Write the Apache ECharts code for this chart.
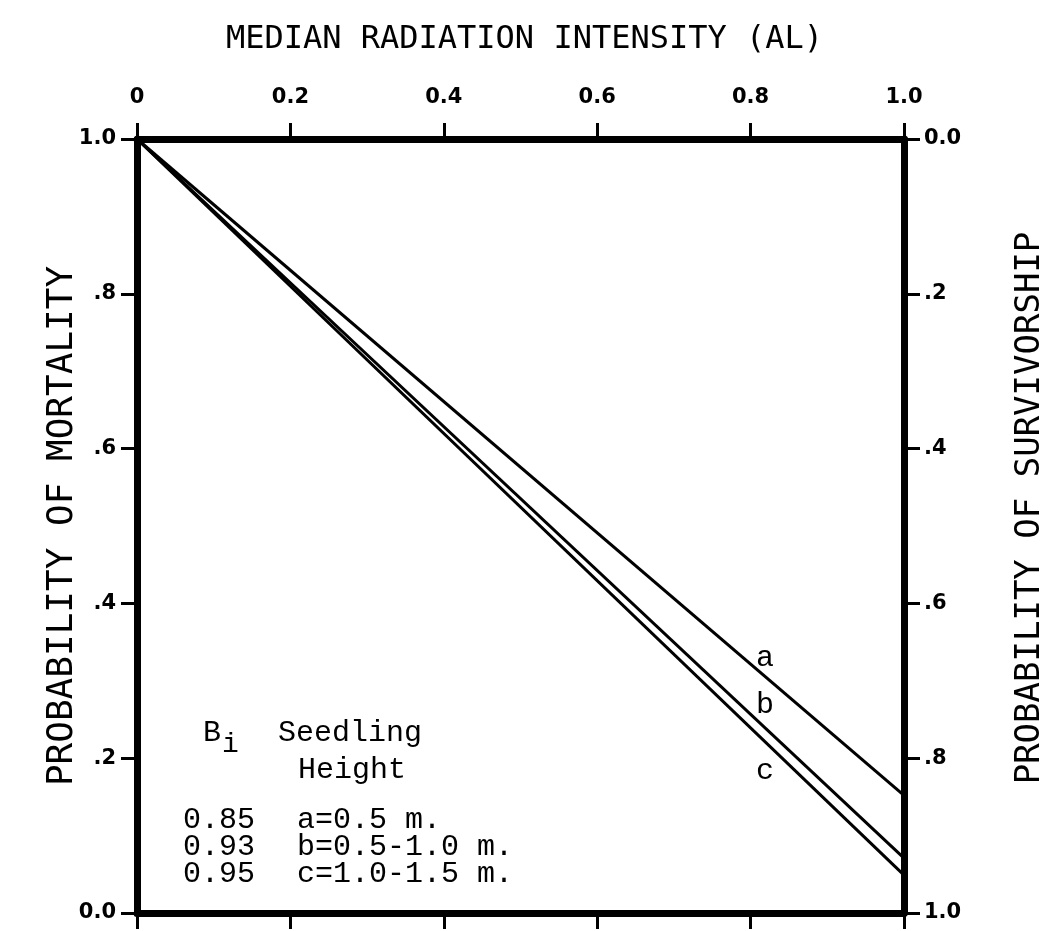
<!DOCTYPE html>
<html>
<head>
<meta charset="utf-8">
<script src="https://cdn.jsdelivr.net/npm/echarts@6/dist/echarts.min.js"></script>
<style>
html, body { margin: 0; background: #fff; }
#chart { width: 1049px; height: 931px; }
</style>
</head>
<body>
<div id="chart"></div>
<script>
// radiation intensity (AL) at the two ends of each fitted line
var intensity = [0, 1.0];
// probability of mortality for each seedling height class
var mortalityA = [1.0, 0.152];
var mortalityB = [1.0, 0.071];
var mortalityC = [1.0, 0.049];

var topTickLabels = ['0', '0.2', '0.4', '0.6', '0.8', '1.0'];
var leftTickLabels = ['0.0', '.2', '.4', '.6', '.8', '1.0'];
var rightTickLabels = ['0.0', '.2', '.4', '.6', '.8', '1.0'];

var curveNames = ['a', 'b', 'c'];
var bValues = ['0.85', '0.93', '0.95'];
var heightClasses = ['a=0.5 m.', 'b=0.5-1.0 m.', 'c=1.0-1.5 m.'];

var typeFont = '"Liberation Mono", "DejaVu Sans Mono", monospace';
var labelFont = '"DejaVu Sans", sans-serif';

function pair(xs, ys) {
    var out = [];
    for (var i = 0; i < xs.length; i++) {
        out.push([xs[i], ys[i]]);
    }
    return out;
}

function tickIndex(v) {
    return Math.round(v / 0.2);
}

window.onload = function() {
    var chart = echarts.init(document.getElementById('chart'));

    var axisLine = { show: true, onZero: false, lineStyle: { color: '#000', width: 7 } };
    var axisTick = { show: true, inside: false, length: 16, lineStyle: { color: '#000', width: 3 } };

    var lineSeries = [mortalityA, mortalityB, mortalityC].map(function(vals, i) {
        return {
            name: curveNames[i],
            type: 'line',
            xAxisIndex: 0,
            yAxisIndex: 0,
            data: pair(intensity, vals),
            symbol: 'none',
            lineStyle: { color: '#000', width: 3 },
            silent: true
        };
    });

    var graphics = [
        { type: 'text', left: 'center', top: 24,
          style: { text: 'MEDIAN RADIATION INTENSITY (AL)', font: '32px "DejaVu Sans Mono", monospace', fill: '#000' } },
        { type: 'text', x: 63, y: 526, rotation: Math.PI / 2,
          style: { text: 'PROBABILITY OF MORTALITY', font: '36px "DejaVu Sans Mono", monospace', fill: '#000', align: 'center', verticalAlign: 'middle' } },
        { type: 'text', x: 1030, y: 508, rotation: Math.PI / 2,
          style: { text: 'PROBABILITY OF SURVIVORSHIP', font: '34px "DejaVu Sans Mono", monospace', fill: '#000', align: 'center', verticalAlign: 'middle' } }
    ];

    // curve letters
    var letterY = [658, 705, 771];
    for (var i = 0; i < curveNames.length; i++) {
        graphics.push({ type: 'text', x: 765, y: letterY[i],
            style: { text: curveNames[i], font: '30px ' + typeFont, fill: '#000', align: 'center', verticalAlign: 'middle' } });
    }

    // key block
    graphics.push({ type: 'text', x: 203, y: 733, style: { text: 'B', font: '30px ' + typeFont, fill: '#000', verticalAlign: 'middle' } });
    graphics.push({ type: 'text', x: 222, y: 745, style: { text: 'i', font: '28px ' + typeFont, fill: '#000', verticalAlign: 'middle' } });
    graphics.push({ type: 'text', x: 278, y: 733, style: { text: 'Seedling', font: '30px ' + typeFont, fill: '#000', verticalAlign: 'middle' } });
    graphics.push({ type: 'text', x: 298, y: 770, style: { text: 'Height', font: '30px ' + typeFont, fill: '#000', verticalAlign: 'middle' } });
    for (var j = 0; j < bValues.length; j++) {
        graphics.push({ type: 'text', x: 183, y: 820 + j * 27,
            style: { text: bValues[j], font: '30px ' + typeFont, fill: '#000', verticalAlign: 'middle' } });
        graphics.push({ type: 'text', x: 297, y: 820 + j * 27,
            style: { text: heightClasses[j], font: '30px ' + typeFont, fill: '#000', verticalAlign: 'middle' } });
    }

    var tickLabelStyle = { color: '#000', fontFamily: labelFont, fontWeight: 'bold', fontSize: 21 };

    var option = {
        backgroundColor: '#fff',
        animation: false,
        grid: { left: 137, top: 139, width: 767, height: 774, containLabel: false },
        xAxis: [
            {
                type: 'value', position: 'top', min: 0, max: 1, interval: 0.2,
                axisLine: axisLine, axisTick: axisTick, splitLine: { show: false },
                axisLabel: Object.assign({ margin: 31,
                    formatter: function(v) { return topTickLabels[tickIndex(v)]; } }, tickLabelStyle)
            },
            {
                type: 'value', position: 'bottom', min: 0, max: 1, interval: 0.2,
                axisLine: axisLine, axisTick: axisTick, splitLine: { show: false },
                axisLabel: { show: false }
            }
        ],
        yAxis: [
            {
                type: 'value', position: 'left', min: 0, max: 1, interval: 0.2,
                axisLine: axisLine, axisTick: axisTick, splitLine: { show: false },
                axisLabel: Object.assign({ margin: 21,
                    formatter: function(v) { return leftTickLabels[tickIndex(v)]; } }, tickLabelStyle)
            },
            {
                type: 'value', position: 'right', min: 0, max: 1, interval: 0.2, inverse: true,
                axisLine: axisLine, axisTick: axisTick, splitLine: { show: false },
                axisLabel: Object.assign({ margin: 20,
                    formatter: function(v) { return rightTickLabels[tickIndex(v)]; } }, tickLabelStyle)
            }
        ],
        series: lineSeries,
        graphic: graphics
    };

    chart.setOption(option);
};
</script>
</body>
</html>
